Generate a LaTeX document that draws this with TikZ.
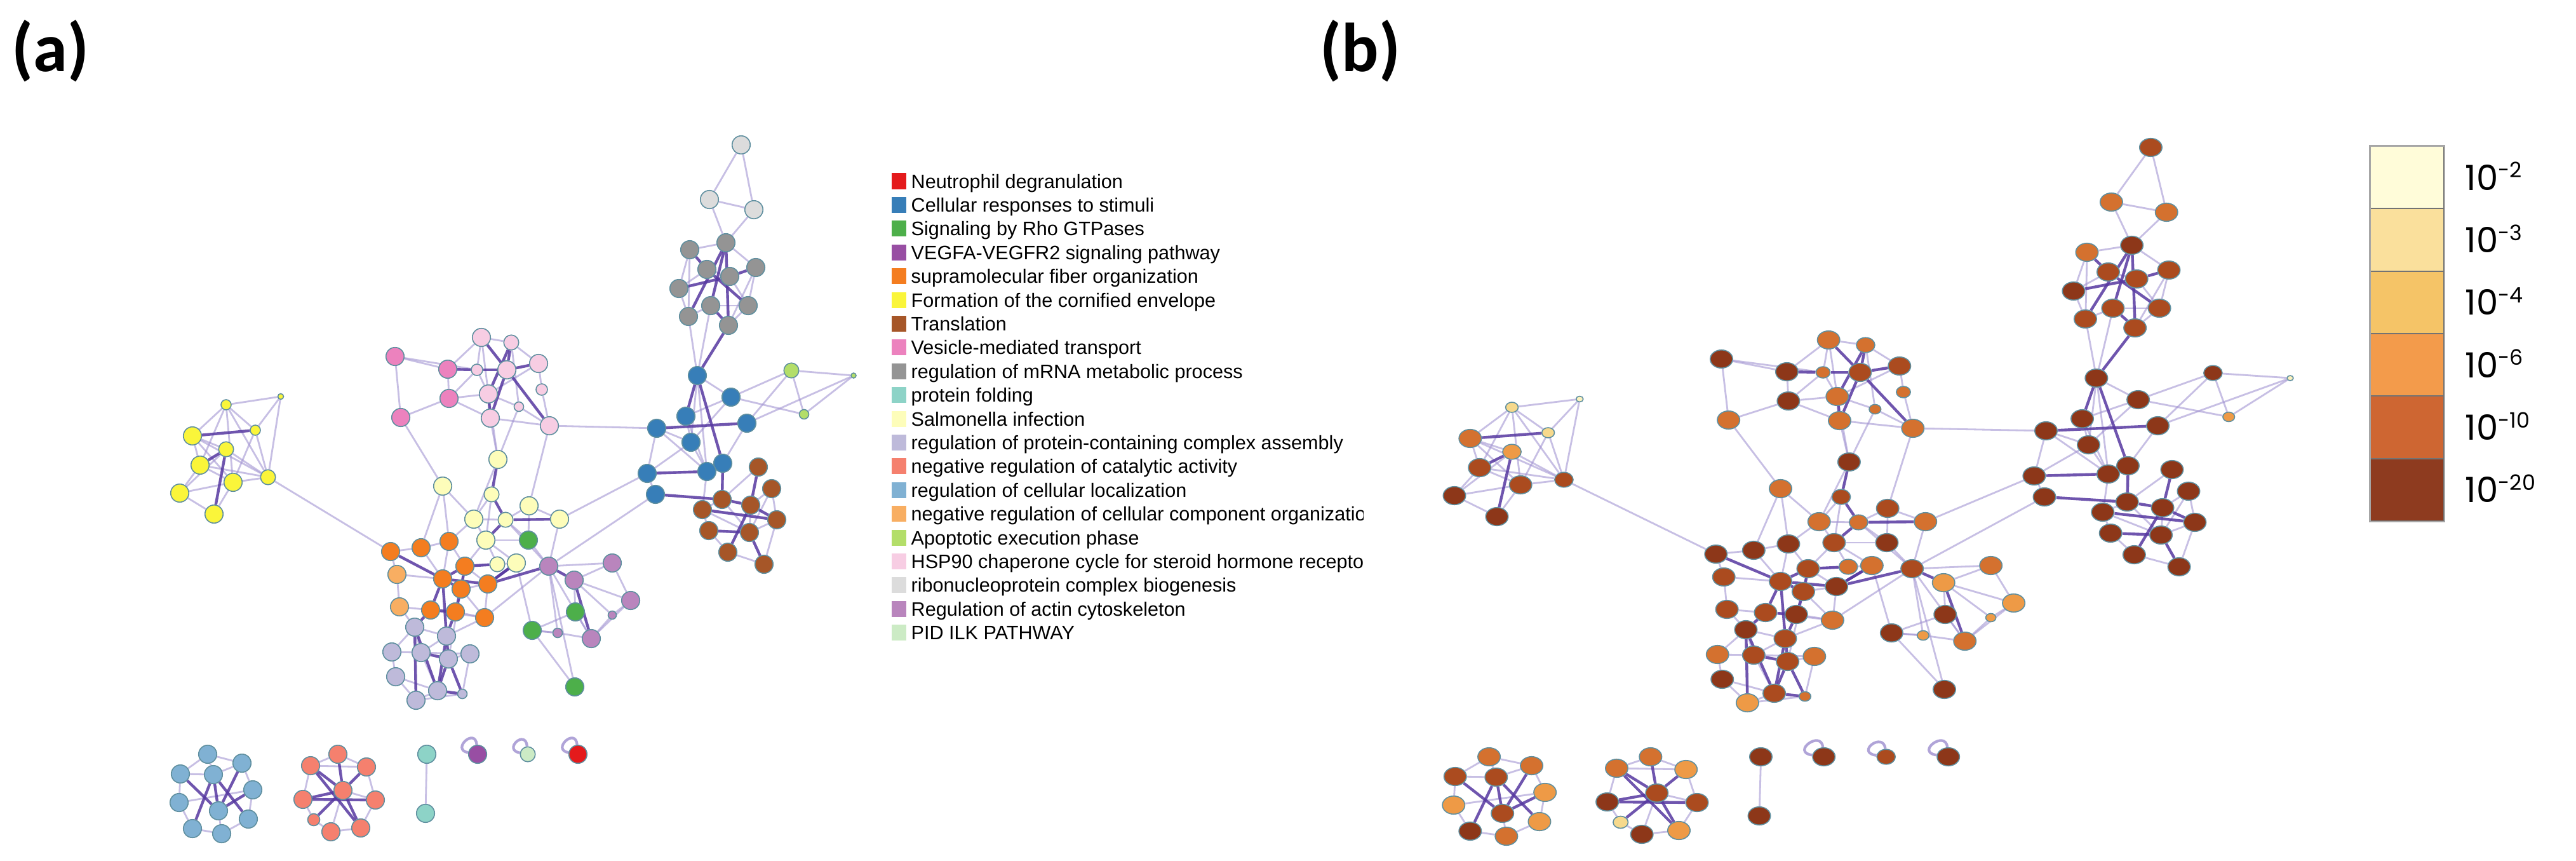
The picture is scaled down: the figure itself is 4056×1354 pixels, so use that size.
\documentclass[tikz,border=0pt]{standalone}
\usepackage{fontspec}
\setmainfont{Liberation Sans}
\newfontfamily\lblfont{Carlito}
\newfontfamily\cbfont{Poppins}
\pgfdeclarelayer{bglayer}
\pgfdeclarelayer{edgelayer}
\pgfsetlayers{bglayer,edgelayer,main}
% category colours (a)
\definecolor{neut}{HTML}{E41A1C}\definecolor{cell}{HTML}{377EB8}
\definecolor{rho}{HTML}{4DAF4A}\definecolor{vegf}{HTML}{984EA3}
\definecolor{supra}{HTML}{F47D20}\definecolor{corn}{HTML}{FAF53A}
\definecolor{transl}{HTML}{A65628}\definecolor{vesic}{HTML}{EC82BE}
\definecolor{mrna}{HTML}{949494}\definecolor{fold}{HTML}{8DD3C7}
\definecolor{salm}{HTML}{FDFDBA}\definecolor{pcx}{HTML}{BEBADA}
\definecolor{cat}{HTML}{F5806E}\definecolor{loc}{HTML}{80B1D3}
\definecolor{ncc}{HTML}{F8AE62}\definecolor{apop}{HTML}{B3DE69}
\definecolor{hsp}{HTML}{F7CDE3}\definecolor{rnp}{HTML}{DCDCDC}
\definecolor{actin}{HTML}{B985BD}\definecolor{ilk}{HTML}{CCEBC5}
% p-value colours (b)
\definecolor{cW}{HTML}{FCF2BE}\definecolor{cP}{HTML}{F6D98C}
\definecolor{cL}{HTML}{EE9A46}\definecolor{cO}{HTML}{D4712F}
\definecolor{cM}{HTML}{AB4B1F}\definecolor{cD}{HTML}{8D3719}
\definecolor{cb2}{HTML}{FFFCD9}\definecolor{cb3}{HTML}{FAE09C}
\definecolor{cb4}{HTML}{F5C467}\definecolor{cb6}{HTML}{F39B4B}
\definecolor{cb10}{HTML}{CE6632}\definecolor{cb20}{HTML}{8E3B1F}
\definecolor{ndline}{HTML}{5F8F9F}
\definecolor{weakc}{HTML}{A395D2}\definecolor{strongc}{HTML}{5638A0}
\tikzset{
  nd/.style={circle,inner sep=0pt,draw=ndline,line width=0.45pt},
  ew/.style={draw=weakc,line width=0.8pt,opacity=0.6},
  es/.style={draw=strongc,line width=1.25pt,opacity=0.85},
  selfloop/.style={draw=weakc,line width=1.2pt,opacity=0.85},
  legsq/.style={inner sep=0pt,minimum width=2.3mm,minimum height=2.5mm},
  legtxt/.style={inner sep=0pt,font=\fontsize{8.7}{10}\selectfont,anchor=base west},
  cbseg/.style={inner sep=0pt,minimum width=11.6mm,minimum height=9.83mm,draw=black!55,line width=0.5pt},
  cblab/.style={inner sep=0pt,anchor=base west,font=\cbfont\fontsize{15.5}{18}\selectfont},
  panellab/.style={inner sep=0pt,anchor=base west,font=\lblfont\bfseries\fontsize{31}{36}\selectfont}
}
\newif\ifpanelb
\def\bigsz{2.85mm}
\def\medsz{2.35mm}
\newcommand\gnode[6]{\ifpanelb\def\ndcol{#6}\else\def\ndcol{#5}\fi
  \node[nd,minimum size=#4,fill=\ndcol] (#1\pfx) at (#2,#3) {};}
\newcommand\netnodes{%
% yellow: cornified envelope
\gnode{Y1}{356}{637}{1.6mm}{corn}{cP}
\gnode{Y2}{442}{624}{0.9mm}{corn}{cW}
\gnode{Y3}{303}{686}{\bigsz}{corn}{cO}
\gnode{Y4}{402}{677}{1.6mm}{corn}{cP}
\gnode{Y5}{356}{707}{\medsz}{corn}{cL}
\gnode{Y6}{315}{732}{\bigsz}{corn}{cM}
\gnode{Y7}{367}{759}{\bigsz}{corn}{cM}
\gnode{Y8}{422}{751}{\medsz}{corn}{cM}
\gnode{Y9}{283}{776}{\bigsz}{corn}{cD}
\gnode{Y10}{337}{809}{\bigsz}{corn}{cD}
% vesicle / HSP90
\gnode{P1}{622}{561}{\bigsz}{vesic}{cD}
\gnode{P2}{705}{581}{\bigsz}{vesic}{cD}
\gnode{P3}{707}{627}{\bigsz}{vesic}{cD}
\gnode{P4}{631}{657}{\bigsz}{vesic}{cO}
\gnode{L1}{758}{531}{\bigsz}{hsp}{cO}
\gnode{L2}{805}{539}{\medsz}{hsp}{cO}
\gnode{L3}{751}{582}{1.8mm}{hsp}{cO}
\gnode{L4}{798}{582}{\bigsz}{hsp}{cM}
\gnode{L5}{848}{572}{\bigsz}{hsp}{cM}
\gnode{L6}{769}{620}{\bigsz}{hsp}{cO}
\gnode{L7}{853}{613}{1.8mm}{hsp}{cO}
\gnode{L8}{817}{640}{1.5mm}{hsp}{cO}
\gnode{L9}{772}{658}{\bigsz}{hsp}{cO}
\gnode{L10}{865}{670}{\bigsz}{hsp}{cO}
% salmonella
\gnode{S1}{784}{723}{\bigsz}{salm}{cD}
\gnode{S2}{697}{765}{\bigsz}{salm}{cO}
\gnode{S3}{774}{778}{\medsz}{salm}{cM}
\gnode{S4}{833}{796}{\bigsz}{salm}{cM}
\gnode{S5}{746}{817}{\bigsz}{salm}{cO}
\gnode{S6}{796}{818}{\medsz}{salm}{cO}
\gnode{S7}{881}{817}{\bigsz}{salm}{cO}
\gnode{S8}{765}{850}{\bigsz}{salm}{cM}
\gnode{S9}{783}{888}{\medsz}{salm}{cO}
\gnode{S10}{813}{886}{\bigsz}{salm}{cO}
% rho
\gnode{G1}{832}{850}{\bigsz}{rho}{cD}
\gnode{G2}{906}{963}{\bigsz}{rho}{cD}
\gnode{G3}{838}{992}{\bigsz}{rho}{cD}
\gnode{G4}{905}{1081}{\bigsz}{rho}{cD}
% supramolecular
\gnode{O1}{615}{868}{\bigsz}{supra}{cD}
\gnode{O2}{663}{862}{\bigsz}{supra}{cD}
\gnode{O3}{707}{852}{\bigsz}{supra}{cD}
\gnode{O4}{732}{891}{\bigsz}{supra}{cM}
\gnode{O5}{697}{911}{\bigsz}{supra}{cM}
\gnode{O6}{768}{919}{\bigsz}{supra}{cD}
\gnode{O7}{726}{927}{\bigsz}{supra}{cM}
\gnode{O8}{678}{960}{\bigsz}{supra}{cM}
\gnode{O9}{717}{963}{\bigsz}{supra}{cD}
\gnode{O10}{763}{972}{\bigsz}{supra}{cO}
\gnode{LO1}{625}{904}{\bigsz}{ncc}{cM}
\gnode{LO2}{629}{955}{\bigsz}{ncc}{cM}
% protein-containing complex
\gnode{V1}{653}{987}{\bigsz}{pcx}{cD}
\gnode{V2}{703}{1001}{\bigsz}{pcx}{cM}
\gnode{V3}{617}{1026}{\bigsz}{pcx}{cO}
\gnode{V4}{663}{1027}{\bigsz}{pcx}{cM}
\gnode{V5}{706}{1037}{\bigsz}{pcx}{cM}
\gnode{V6}{740}{1029}{\bigsz}{pcx}{cO}
\gnode{V7}{623}{1065}{\bigsz}{pcx}{cD}
\gnode{V8}{689}{1087}{\bigsz}{pcx}{cM}
\gnode{V9}{655}{1102}{\bigsz}{pcx}{cL}
\gnode{V10}{728}{1092}{1.5mm}{pcx}{cO}
% actin
\gnode{A1}{864}{891}{\bigsz}{actin}{cM}
\gnode{A2}{964}{886}{\bigsz}{actin}{cO}
\gnode{A3}{904}{913}{\bigsz}{actin}{cL}
\gnode{A4}{993}{945}{\bigsz}{actin}{cL}
\gnode{A5}{964}{968}{1.3mm}{actin}{cL}
\gnode{A6}{878}{996}{1.5mm}{actin}{cL}
\gnode{A7}{931}{1005}{\bigsz}{actin}{cO}
% ribonucleoprotein / mRNA
\gnode{R1}{1167}{228}{\bigsz}{rnp}{cM}
\gnode{R2}{1117}{314}{\bigsz}{rnp}{cO}
\gnode{R3}{1187}{330}{\bigsz}{rnp}{cO}
\gnode{M1}{1086}{393}{\bigsz}{mrna}{cO}
\gnode{M2}{1143}{382}{\bigsz}{mrna}{cD}
\gnode{M3}{1113}{424}{\bigsz}{mrna}{cM}
\gnode{M4}{1149}{435}{\bigsz}{mrna}{cM}
\gnode{M5}{1190}{421}{\bigsz}{mrna}{cM}
\gnode{M6}{1069}{454}{\bigsz}{mrna}{cD}
\gnode{M7}{1119}{481}{\bigsz}{mrna}{cM}
\gnode{M8}{1178}{481}{\bigsz}{mrna}{cM}
\gnode{M9}{1084}{498}{\bigsz}{mrna}{cM}
\gnode{M10}{1147}{512}{\bigsz}{mrna}{cM}
% cellular responses
\gnode{B1}{1098}{591}{\bigsz}{cell}{cD}
\gnode{B2}{1151}{625}{\bigsz}{cell}{cD}
\gnode{B3}{1080}{655}{\bigsz}{cell}{cD}
\gnode{B4}{1034}{674}{\bigsz}{cell}{cD}
\gnode{B5}{1176}{666}{\bigsz}{cell}{cD}
\gnode{B6}{1088}{696}{\bigsz}{cell}{cD}
\gnode{B7}{1138}{729}{\bigsz}{cell}{cD}
\gnode{B8}{1113}{742}{\bigsz}{cell}{cD}
\gnode{B9}{1019}{745}{\bigsz}{cell}{cD}
\gnode{B10}{1032}{778}{\bigsz}{cell}{cD}
% apoptotic
\gnode{AG1}{1246}{583}{\medsz}{apop}{cD}
\gnode{AG2}{1344}{591}{0.8mm}{apop}{cW}
\gnode{AG3}{1266}{652}{1.5mm}{apop}{cL}
% translation
\gnode{T1}{1194}{735}{\bigsz}{transl}{cD}
\gnode{T2}{1215}{769}{\bigsz}{transl}{cD}
\gnode{T3}{1137}{786}{\bigsz}{transl}{cD}
\gnode{T4}{1182}{795}{\bigsz}{transl}{cD}
\gnode{T5}{1106}{802}{\bigsz}{transl}{cD}
\gnode{T6}{1223}{818}{\bigsz}{transl}{cD}
\gnode{T7}{1116}{835}{\bigsz}{transl}{cD}
\gnode{T8}{1180}{838}{\bigsz}{transl}{cD}
\gnode{T9}{1146}{869}{\bigsz}{transl}{cD}
\gnode{T10}{1203}{888}{\bigsz}{transl}{cD}
% bottom: cellular localization
\gnode{C1}{327}{1187}{\bigsz}{loc}{cO}
\gnode{C2}{381}{1201}{\bigsz}{loc}{cO}
\gnode{C3}{284}{1218}{\bigsz}{loc}{cM}
\gnode{C4}{336}{1219}{\bigsz}{loc}{cM}
\gnode{C5}{398}{1243}{\bigsz}{loc}{cL}
\gnode{C6}{282}{1263}{\bigsz}{loc}{cL}
\gnode{C7}{344}{1276}{\bigsz}{loc}{cM}
\gnode{C8}{391}{1289}{\bigsz}{loc}{cL}
\gnode{C9}{303}{1304}{\bigsz}{loc}{cD}
\gnode{C10}{349}{1312}{\bigsz}{loc}{cO}
% bottom: catalytic activity
\gnode{N1}{532}{1187}{\bigsz}{cat}{cO}
\gnode{N2}{489}{1205}{\bigsz}{cat}{cO}
\gnode{N3}{577}{1207}{\bigsz}{cat}{cL}
\gnode{N4}{540}{1244}{\bigsz}{cat}{cM}
\gnode{N5}{477}{1258}{\bigsz}{cat}{cD}
\gnode{N6}{591}{1259}{\bigsz}{cat}{cM}
\gnode{N7}{494}{1290}{1.9mm}{cat}{cP}
\gnode{N8}{521}{1309}{\bigsz}{cat}{cD}
\gnode{N9}{568}{1303}{\bigsz}{cat}{cL}
% bottom: folding pair and self loops
\gnode{F1}{672}{1187}{\bigsz}{fold}{cD}
\gnode{F2}{670}{1280}{\bigsz}{fold}{cD}
\gnode{K1}{752}{1187}{\bigsz}{vegf}{cD}
\gnode{K2}{831}{1187}{\medsz}{ilk}{cM}
\gnode{K3}{910}{1187}{\bigsz}{neut}{cD}
}
\newcommand\netedges{%
\begin{pgfonlayer}{edgelayer}
\foreach \u/\v in {Y1/Y2,Y1/Y3,Y1/Y4,Y1/Y6,Y1/Y7,Y1/Y8,Y2/Y4,Y2/Y8,Y3/Y5,Y3/Y6,Y3/Y7,Y3/Y8,
  Y5/Y8,Y5/Y9,Y6/Y7,Y6/Y9,Y6/Y8,Y7/Y9,Y7/Y10,Y7/Y8,Y9/Y10,Y4/Y8,Y4/Y7,Y8/O1,
  P1/P2,P1/P4,P1/L3,P2/P3,P2/L1,P3/L6,P3/L3,P3/P4,P4/S2,L1/L2,L1/L6,L2/L5,L3/L6,L5/L7,L5/L6,
  L6/L8,L7/L10,L8/L10,L9/L10,L2/L8,L1/L3,P3/L9,L9/S1,L6/S1,L10/S4,L10/B4,L8/S1,
  S1/S5,S2/S5,S2/O3,S3/S5,S3/S8,S4/S6,S4/S7,S5/S6,S5/S8,S8/S9,S8/S10,S9/S10,S5/O3,S8/O4,
  S6/A1,S7/A1,S7/B9,S2/O2,S4/G1,
  G1/S8,G1/A1,G2/G3,G2/A3,G3/A6,G4/G3,G4/A1,G1/S6,G2/A7,G3/S10,
  O1/O2,O1/LO1,O2/O3,O2/O5,O3/O4,O3/O5,O4/O6,O4/O9,O6/O7,O6/O10,O7/O10,O8/O10,O9/O10,
  LO1/LO2,LO1/O5,LO2/O8,O7/V5,O10/V2,O4/S9,O10/A1,LO2/V1,
  V1/V2,V1/V3,V1/V4,V2/V4,V3/V7,V4/V6,V4/V8,V5/V6,V6/V10,V7/V9,V7/V8,V8/V9,V9/V10,V3/V4,
  A1/A2,A1/A7,A1/A6,A2/A3,A2/A4,A3/A4,A3/A5,A4/A5,A4/A7,A5/A7,A6/A7,A6/G3,A1/B10,
  R1/R2,R1/R3,R2/R3,R2/M2,R3/M2,M1/M2,M1/M6,M2/M5,M3/M6,M5/M8,M6/M9,M8/M10,M9/M7,M7/M8,
  M3/M4,M1/M9,M5/M10,M8/M4,M9/B1,M7/B1,
  B1/B2,B1/B6,B1/B8,B2/B3,B2/B6,B3/B6,B4/B6,B4/B9,B4/B8,B5/B7,B6/B8,B6/B9,B7/B8,B9/B10,
  B8/T5,B2/AG3,B5/AG2,B3/B8,AG1/AG2,AG1/AG3,AG2/AG3,AG1/B2,AG1/B5,
  T1/T3,T2/T4,T2/T6,T3/T5,T3/T8,T4/T8,T5/T7,T5/T8,T6/T8,T6/T10,T7/T9,T9/T10,T2/T8,
  C1/C2,C1/C3,C1/C4,C3/C6,C6/C9,C9/C10,C10/C8,C8/C5,C5/C2,C2/C4,C3/C4,C5/C6,C7/C10,
  N2/N1,N1/N3,N3/N6,N6/N9,N9/N8,N8/N7,N7/N5,N5/N2,N2/N3,N4/N6,N4/N8,F1/F2}
  {\draw[ew] (\u\pfx) -- (\v\pfx);}
\foreach \u/\v in {Y5/Y10,Y3/Y4,Y6/Y5,
  P2/L3,L1/L4,L2/L4,L3/L4,L4/L5,L4/L9,L4/L10,L2/L6,L6/L9,
  S1/S3,S3/S6,S6/S7,S6/S8,S9/O4,S10/O6,
  O1/O5,O4/O5,O4/O7,O5/O7,O5/O8,O5/O6,O7/O9,O8/O9,O9/V2,O8/V1,O5/V2,O6/S10,O6/A1,
  V2/V5,V2/V8,V4/V5,V5/V8,V5/V10,V8/V10,V1/V9,V1/V8,A1/A3,A3/A7,
  M1/M3,M2/M7,M2/M10,M2/M9,M4/M5,M6/M4,M3/M8,M7/M10,M10/B1,
  B1/B3,B4/B5,B8/B9,B7/T3,B10/T3,B1/B7,
  T1/T4,T3/T4,T4/T6,T7/T8,T8/T10,T9/T4,T5/T6,
  C4/C9,C4/C8,C7/C2,C7/C3,C7/C5,C4/C7,
  N4/N1,N4/N3,N4/N5,N4/N7,N4/N9,N2/N9,N5/N6,N4/N2}
  {\draw[es] (\u\pfx) -- (\v\pfx);}
\foreach \k in {K1,K2,K3}
  {\draw[selfloop] (\k\pfx) to[out=95,in=170,min distance=0.28cm] (\k\pfx);}
\end{pgfonlayer}
}
\begin{document}
\begin{tikzpicture}[x=0.01cm,y=-0.01cm]
\begin{pgfonlayer}{bglayer}
\fill[white] (0,0) rectangle (4056,1354);
\end{pgfonlayer}
\useasboundingbox (0,0) rectangle (4056,1354);
% panel labels
\node[panellab] (laba) at (18,112) {(a)};
\node[panellab] (labb) at (2078,112) {(b)};
% panel (a) network
\panelbfalse\def\pfx{a}
\netnodes
\netedges
% legend (a)
\begin{scope}
\clip (1390,240) rectangle (2146,1030);
\foreach \c/\t [count=\i from 0] in {
  neut/Neutrophil degranulation,
  cell/Cellular responses to stimuli,
  rho/Signaling by Rho GTPases,
  vegf/VEGFA-VEGFR2 signaling pathway,
  supra/supramolecular fiber organization,
  corn/Formation of the cornified envelope,
  transl/Translation,
  vesic/Vesicle-mediated transport,
  mrna/regulation of mRNA metabolic process,
  fold/protein folding,
  salm/Salmonella infection,
  pcx/regulation of protein-containing complex assembly,
  cat/negative regulation of catalytic activity,
  loc/regulation of cellular localization,
  ncc/negative regulation of cellular component organization,
  apop/Apoptotic execution phase,
  hsp/HSP90 chaperone cycle for steroid hormone receptors,
  rnp/ribonucleoprotein complex biogenesis,
  actin/Regulation of actin cytoskeleton,
  ilk/PID ILK PATHWAY}
{
  \node[legsq,fill=\c] (sq\i) at (1415.5,285+37.4*\i) {};
  \node[legtxt] (lt\i) at (1434,296+37.4*\i) {\t};
}
\end{scope}
% panel (b) network
\begin{scope}[shift={(1939,4)},xscale=1.2403,transform shape]
\panelbtrue\def\pfx{b}
\netnodes
\netedges
\end{scope}
% colour bar (b)
\foreach \c/\e [count=\i from 0] in {cb2/-2,cb3/-3,cb4/-4,cb6/-6,cb10/-10,cb20/-20}
{
  \node[cbseg,fill=\c] (cb\i) at (3790,279.2+98.33*\i) {};
  \node[cblab] (cbl\i) at (3881,299+98.33*\i) {10\raisebox{0.19cm}{\fontsize{9.5}{11}\selectfont\e}};
}
\draw[black!35,line width=0.8pt] (cb0.north west) rectangle (cb5.south east);
\end{tikzpicture}
\end{document}
